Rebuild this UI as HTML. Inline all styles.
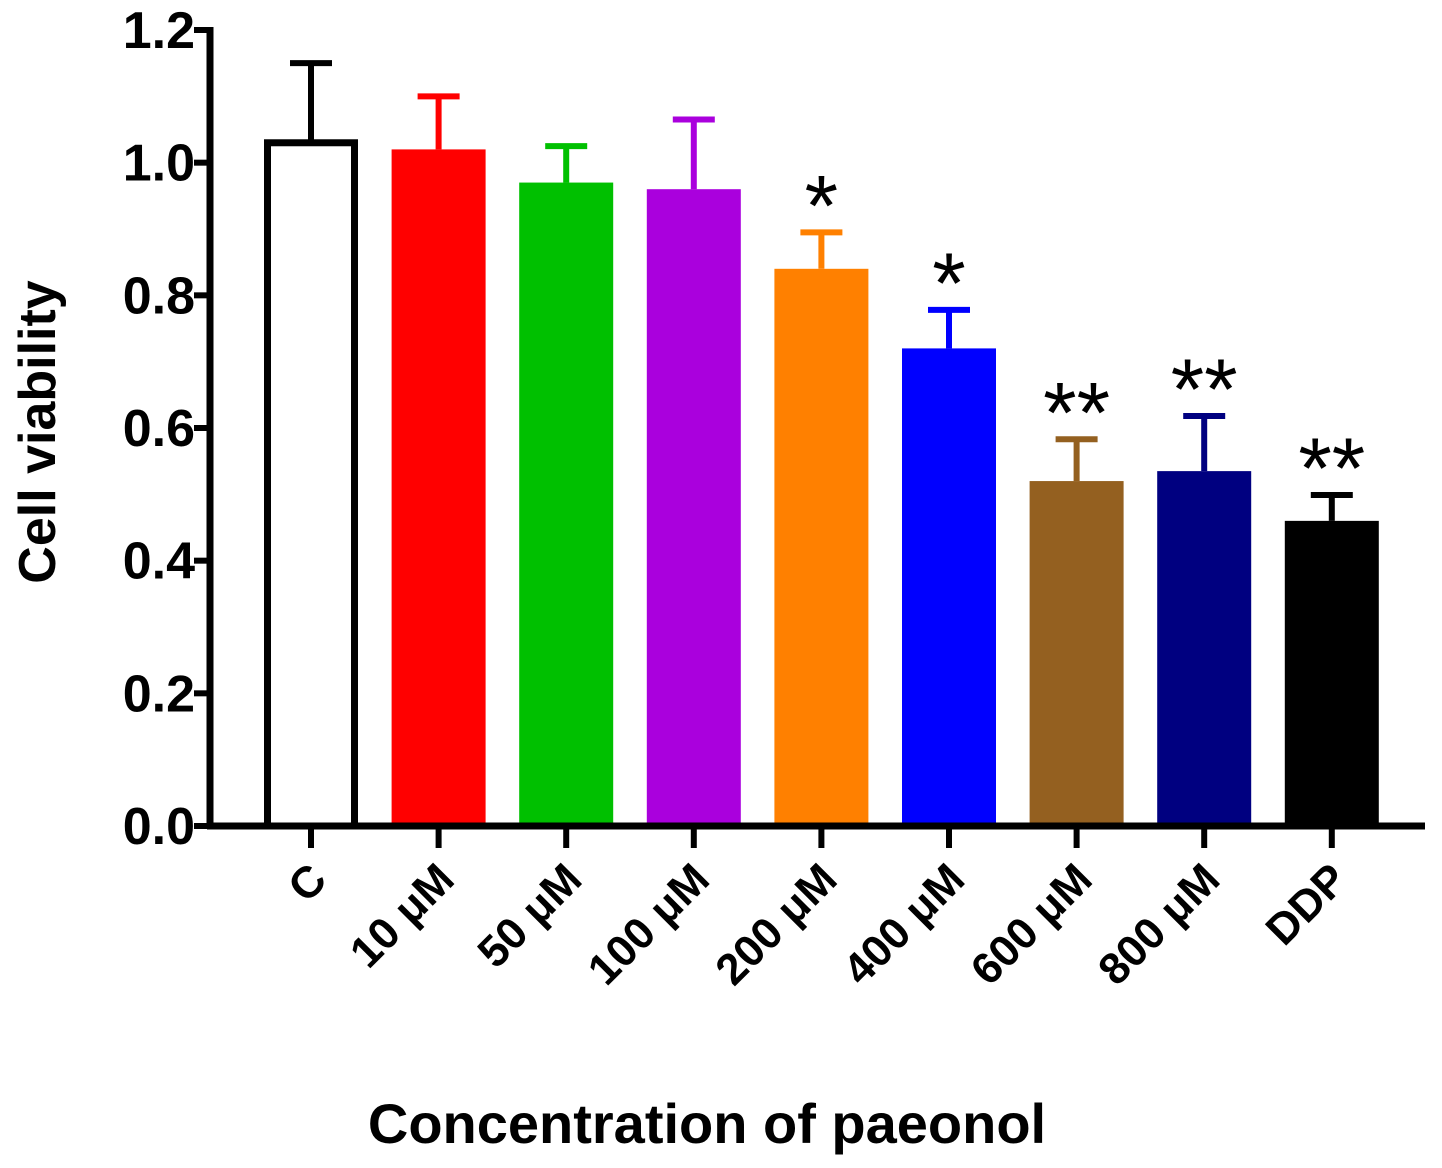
<!DOCTYPE html>
<html><head><meta charset="utf-8"><style>
html,body{margin:0;padding:0;background:#fff;}
svg{display:block;font-family:"Liberation Sans",Arial,sans-serif;font-weight:bold;}
</style></head><body>
<svg id="chart" width="1442" height="1168" viewBox="0 0 1442 1168"></svg>
<script>
const categories = ["C","10 μM","50 μM","100 μM","200 μM","400 μM","600 μM","800 μM","DDP"];
const values = [1.03,1.02,0.97,0.96,0.84,0.72,0.52,0.535,0.46];
const errors = [0.12,0.08,0.055,0.105,0.055,0.058,0.063,0.083,0.039];
const stars = ["","","","","*","*","**","**","**"];
const colors = ["#ffffff","#ff0000","#00c000","#aa00dd","#ff8000","#0000ff","#946020","#000080","#000000"];
const yTicks = [0,0.2,0.4,0.6,0.8,1.0,1.2];

const svg = document.getElementById('chart');
const NS = 'http://www.w3.org/2000/svg';
const y0 = 826, yTop = 30, yMax = 1.2;
const y = v => y0 - (v / yMax) * (y0 - yTop);
const x = i => 311 + i * 127.6;
const bw = 94;
function mk(tag, attrs){const e=document.createElementNS(NS,tag);for(const k in attrs)e.setAttribute(k,attrs[k]);svg.appendChild(e);return e;}

categories.forEach((c,i)=>{
  const cx=x(i), top=y(values[i]), et=y(values[i]+errors[i]);
  const stroke = i===0 ? '#000' : colors[i];
  const eb = mk('line',{x1:cx,x2:cx,y1:top,y2:et,stroke:stroke,'stroke-width':6});
  
  
  const cap = mk('line',{x1:cx-21,x2:cx+21,y1:et,y2:et,stroke:stroke,'stroke-width':6});
  
  
  let r;
  if(i===0){
    r = mk('rect',{x:cx-bw/2+3.5,y:top,width:bw-7,height:y0-top,fill:'#fff',stroke:'#000','stroke-width':7});
  } else {
    r = mk('rect',{x:cx-bw/2,y:top,width:bw,height:y0-top,fill:colors[i]});
  }
  
  
  if(stars[i]){
    const s = mk('text',{x:cx,y:et+3,'text-anchor':'middle','font-size':86,fill:'#000','font-weight':'normal'});
    s.textContent = stars[i];
    
    
  }
  const tk = mk('line',{x1:cx,x2:cx,y1:y0,y2:y0+22,stroke:'#000','stroke-width':6});
  
  
  const lx = cx+18, ly = 882;
  const lb = mk('text',{x:lx,y:ly,'text-anchor':'end','font-size':44,fill:'#000',transform:`rotate(-45 ${lx} ${ly})`});
  lb.textContent = c;
  
  
});

yTicks.forEach(t=>{
  const yy=y(t);
  const tk = mk('line',{x1:194,x2:210,y1:yy,y2:yy,stroke:'#000','stroke-width':6});
  
  
  const lb = mk('text',{x:195,y:yy+18,'text-anchor':'end','font-size':52,fill:'#000'});
  lb.textContent = t.toFixed(1);
  
  
});

const ya = mk('line',{x1:210,x2:210,y1:yTop-3,y2:y0+3,stroke:'#000','stroke-width':7});


const xa = mk('line',{x1:207,x2:1425,y1:y0,y2:y0,stroke:'#000','stroke-width':7});



const yt = mk('text',{x:55,y:432,'text-anchor':'middle','font-size':52,fill:'#000',transform:'rotate(-90 55 432)'});
yt.textContent='Cell viability';


const xt = mk('text',{x:707,y:1143,'text-anchor':'middle','font-size':56,fill:'#000'});
xt.textContent='Concentration of paeonol';


</script>
</body></html>
